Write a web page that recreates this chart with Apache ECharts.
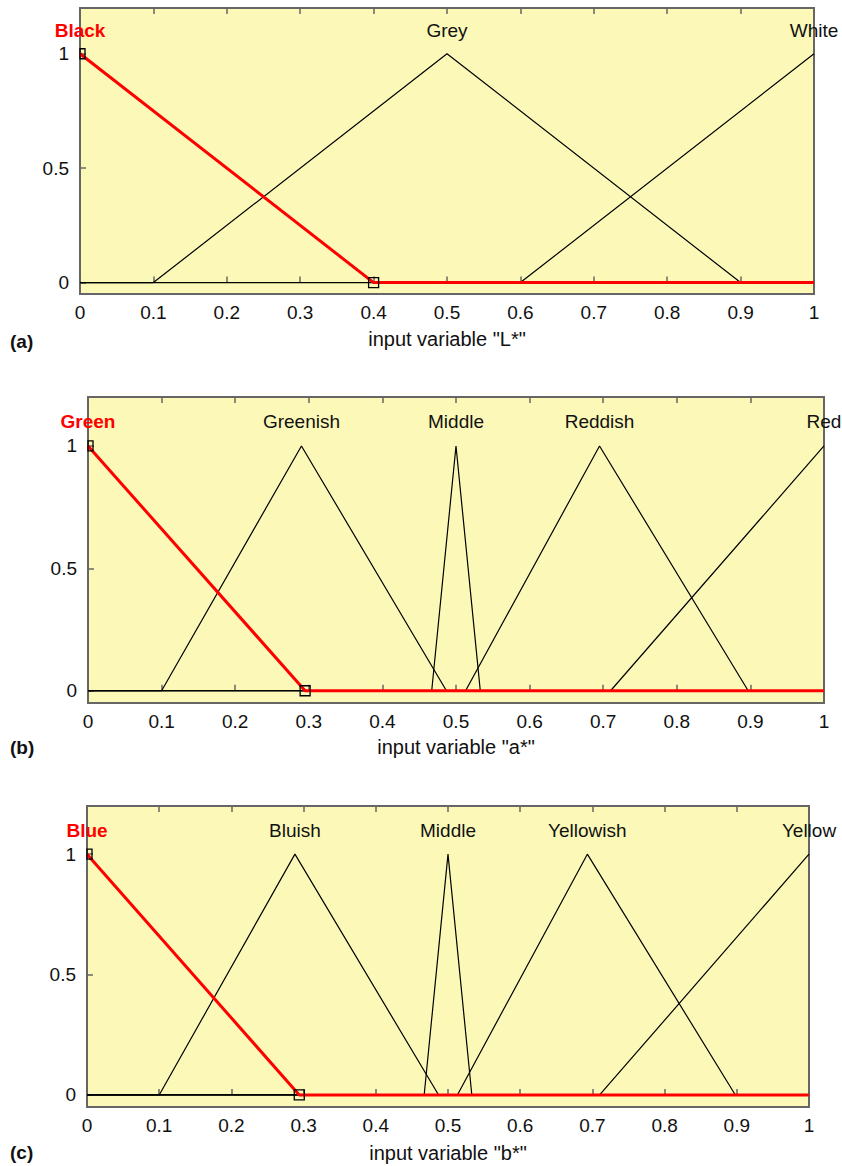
<!DOCTYPE html>
<html><head><meta charset="utf-8">
<script src="https://cdn.jsdelivr.net/npm/echarts@6/dist/echarts.min.js"></script>
<style>html,body{margin:0;padding:0;background:#fff}#c{width:842px;height:1166px}</style>
</head><body><div id="c"></div>
<script>
// ---- data ----
const xTickLabels = ['0','0.1','0.2','0.3','0.4','0.5','0.6','0.7','0.8','0.9','1'];
const yTickValues = [0, 0.5, 1];
const yTickLabels = ['0', '0.5', '1'];

// panel (a): input variable "L*"
const aTitle = 'input variable "L*"';
const aNames = ['Black', 'Grey', 'White'];
const aLabelX = [0, 0.5, 1];
const aBlack = [[0, 1], [0.4, 0], [1, 0]];
const aGrey = [[0, 0], [0.1, 0], [0.5, 1], [0.9, 0], [1, 0]];
const aWhite = [[0, 0], [0.6, 0], [1, 1]];

// panel (b): input variable "a*"
const bTitle = 'input variable "a*"';
const bNames = ['Green', 'Greenish', 'Middle', 'Reddish', 'Red'];
const bLabelX = [0, 0.29, 0.5, 0.695, 1];
const bGreen = [[0, 1], [0.295, 0], [1, 0]];
const bGreenish = [[0, 0], [0.1, 0], [0.29, 1], [0.487, 0], [1, 0]];
const bMiddle = [[0, 0], [0.467, 0], [0.5, 1], [0.533, 0], [1, 0]];
const bReddish = [[0, 0], [0.513, 0], [0.695, 1], [0.897, 0], [1, 0]];
const bRed = [[0, 0], [0.71, 0], [1, 1]];

// panel (c): input variable "b*"
const cTitle = 'input variable "b*"';
const cNames = ['Blue', 'Bluish', 'Middle', 'Yellowish', 'Yellow'];
const cLabelX = [0, 0.288, 0.5, 0.693, 1];
const cBlue = [[0, 1], [0.294, 0], [1, 0]];
const cBluish = [[0, 0], [0.1, 0], [0.288, 1], [0.487, 0], [1, 0]];
const cMiddle = [[0, 0], [0.467, 0], [0.5, 1], [0.533, 0], [1, 0]];
const cYellowish = [[0, 0], [0.513, 0], [0.693, 1], [0.898, 0], [1, 0]];
const cYellow = [[0, 0], [0.71, 0], [1, 1]];

const panelTags = ['(a)', '(b)', '(c)'];
const labelY = 1.1;

// ---- layout / style ----
const FONT = '"Liberation Sans", Arial, sans-serif';
const BG = '#FCF9B8';
const FRAME = '#666666';
const grids = [
  {left: 80, top: 8, width: 734, height: 286},
  {left: 88, top: 397, width: 736, height: 306},
  {left: 87, top: 806, width: 722, height: 301}
];
const nameGaps = [35, 34, 36];
const panels = [
  {title: aTitle, names: aNames, lx: aLabelX, sel: aBlack, others: [aGrey, aWhite]},
  {title: bTitle, names: bNames, lx: bLabelX, sel: bGreen, others: [bGreenish, bMiddle, bReddish, bRed]},
  {title: cTitle, names: cNames, lx: cLabelX, sel: cBlue, others: [cBluish, cMiddle, cYellowish, cYellow]}
];

const option = {
  animation: false,
  backgroundColor: '#ffffff',
  grid: grids.map(g => Object.assign({show: true, backgroundColor: BG, borderColor: FRAME, borderWidth: 2, containLabel: false}, g)),
  xAxis: [], yAxis: [], series: [], graphic: []
};

panels.forEach((p, i) => {
  const xi = option.xAxis.length;
  option.xAxis.push({
    type: 'value', gridIndex: i, min: 0, max: 1, interval: 0.1, position: 'bottom',
    name: p.title, nameLocation: 'middle', nameGap: nameGaps[i],
    nameTextStyle: {fontFamily: FONT, fontSize: 20, color: '#111'},
    axisLine: {show: false}, splitLine: {show: false},
    axisTick: {show: true, inside: true, length: 6, lineStyle: {color: FRAME, width: 1.5}},
    axisLabel: {show: true, margin: 9, fontFamily: FONT, fontSize: 19, color: '#111',
      showMinLabel: true, showMaxLabel: true, hideOverlap: false,
      formatter: v => xTickLabels[Math.round(v * 10)]}
  });
  option.xAxis.push({
    type: 'value', gridIndex: i, min: 0, max: 1, interval: 0.1, position: 'top',
    axisLine: {show: false}, splitLine: {show: false}, axisLabel: {show: false},
    axisTick: {show: true, inside: true, length: 6, lineStyle: {color: FRAME, width: 1.5}}
  });
  const yi = option.yAxis.length;
  option.yAxis.push({
    type: 'value', gridIndex: i, min: -0.05, max: 1.2,
    axisLine: {show: false}, splitLine: {show: false},
    axisTick: {show: true, inside: true, length: 6, customValues: yTickValues, lineStyle: {color: FRAME, width: 1.5}},
    axisLabel: {show: true, margin: 11, fontFamily: FONT, fontSize: 19, color: '#111',
      customValues: yTickValues,
      formatter: v => yTickLabels[yTickValues.indexOf(Math.round(v * 100) / 100)]}
  });
  p.others.forEach(d => {
    option.series.push({type: 'line', xAxisIndex: xi, yAxisIndex: yi, data: d, showSymbol: false,
      symbol: 'none', clip: true, z: 3, lineStyle: {color: '#000', width: 1.2}, silent: true});
  });
  option.series.push({type: 'line', xAxisIndex: xi, yAxisIndex: yi, data: p.sel, showSymbol: false,
    symbol: 'none', clip: true, z: 4, lineStyle: {color: '#ff0000', width: 3}, silent: true});
  // vertex squares of the selected MF
  option.series.push({
    type: 'custom', xAxisIndex: xi, yAxisIndex: yi, z: 5, silent: true,
    data: p.sel.slice(0, 2),
    renderItem: (params, api) => {
      const c = api.coord([api.value(0), api.value(1)]);
      const cs = params.coordSys;
      const r = echarts.graphic.clipRectByRect({x: c[0] - 5, y: c[1] - 5, width: 10, height: 10},
        {x: cs.x, y: cs.y, width: cs.width, height: cs.height});
      if (!r) return null;
      return {type: 'rect', shape: r, style: {fill: 'none', stroke: '#000', lineWidth: 1.3}};
    }
  });
  // MF name labels
  option.series.push({
    type: 'scatter', xAxisIndex: xi, yAxisIndex: yi, z: 6, silent: true, clip: false,
    symbolSize: 0, itemStyle: {color: '#000', opacity: 1},
    data: p.names.map((n, k) => ({
      value: [p.lx[k], labelY, n],
      label: k === 0 ? {color: '#ff0000', fontWeight: 'bold'} : {color: '#111'}
    })),
    label: {show: true, position: 'inside', fontFamily: FONT, fontSize: 19, opacity: 1,
      textBorderWidth: 0, textShadowBlur: 0,
      formatter: q => q.value[2]},
    emphasis: {disabled: true}
  });
});

const tagTops = [332, 738, 1143];
panelTags.forEach((t, i) => {
  option.graphic.push({type: 'text', left: 10, top: tagTops[i],
    style: {text: t, fontFamily: FONT, fontSize: 19, fontWeight: 'bold', fill: '#111'}});
});

const chart = echarts.init(document.getElementById('c'), null, {renderer: 'svg'});
chart.setOption(option);
</script></body></html>
